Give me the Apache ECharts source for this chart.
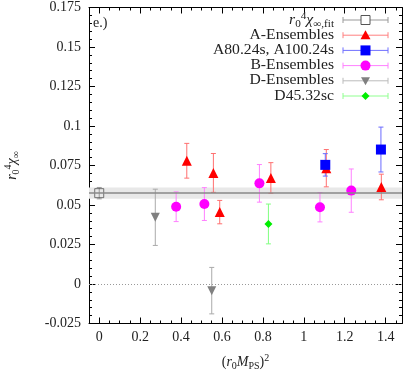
<!DOCTYPE html>
<html><head><meta charset="utf-8">
<script src="https://cdn.jsdelivr.net/npm/echarts@6/dist/echarts.min.js"></script>
<style>html,body{margin:0;padding:0;background:#fff}#c{width:407px;height:371px}</style>
</head><body><div id="c"></div>
<script>
// ---- data ----
const xTickValues = [0, 0.2, 0.4, 0.6, 0.8, 1, 1.2, 1.4];
const xMinorTickValues = [-0.05,0.05,0.1,0.15,0.25,0.3,0.35,0.45,0.5,0.55,0.65,0.7,0.75,0.85,0.9,0.95,1.05,1.1,1.15,1.25,1.3,1.35,1.45];
const yTickValues = [-0.025, 0, 0.025, 0.05, 0.075, 0.1, 0.125, 0.15, 0.175];

const fitX = [0];
const fitY = [0.0575];
const fitErr = [0.0036];

const aX = [0.428, 0.558, 0.589, 0.839, 1.11, 1.379];
const aY = [0.078, 0.0703, 0.0455, 0.0671, 0.0733, 0.0614];
const aErr = [0.011, 0.0123, 0.0074, 0.0097, 0.0118, 0.0081];

const a80X = [1.105, 1.377];
const a80Y = [0.0754, 0.0851];
const a80Err = [0.0071, 0.0142];

const bX = [0.376, 0.514, 0.783, 1.079, 1.232];
const bY = [0.0489, 0.0506, 0.0637, 0.0486, 0.0591];
const bErr = [0.0094, 0.0104, 0.0119, 0.0093, 0.0137];

const dX = [0.274, 0.55];
const dY = [0.0422, -0.0042];
const dErr = [0.0178, 0.0147];

const d45X = [0.827];
const d45Y = [0.038];
const d45Err = [0.0126];

// ---- build ----
const FONT = 'Liberation Serif';
function pts(xs, ys, es) { return xs.map((x, i) => [x, ys[i], es[i]]); }
function errRender(color) {
  return function (params, api) {
    const x = api.value(0), y = api.value(1), e = api.value(2);
    const t = api.coord([x, y + e]), b = api.coord([x, y - e]);
    const w = 2.5;
    const st = { stroke: color, lineWidth: 1 };
    return { type: 'group', children: [
      { type: 'line', shape: { x1: t[0], y1: t[1], x2: b[0], y2: b[1] }, style: st },
      { type: 'line', shape: { x1: t[0] - w, y1: t[1], x2: t[0] + w, y2: t[1] }, style: st },
      { type: 'line', shape: { x1: b[0] - w, y1: b[1], x2: b[0] + w, y2: b[1] }, style: st }
    ]};
  };
}
function errSeries(data, color) {
  return { type: 'custom', renderItem: errRender(color), data: data, encode: { x: 0, y: 1 }, z: 3, silent: true };
}
function markSeries(data, symbol, size, color, extra) {
  return Object.assign({ type: 'scatter', data: data, symbol: symbol, symbolSize: size,
    itemStyle: { color: color, opacity: 1 }, z: 4, silent: true }, extra || {});
}

const richMath = {
  n: { fontFamily: FONT, fontSize: 14, lineHeight: 18, color: '#222' },
  i: { fontFamily: FONT, fontSize: 14, fontStyle: 'italic', lineHeight: 18, color: '#222' },
  sub: { fontFamily: FONT, fontSize: 10, lineHeight: 9, verticalAlign: 'bottom', color: '#222' },
  sup: { fontFamily: FONT, fontSize: 10, lineHeight: 9, verticalAlign: 'top', color: '#222' }
};

const lineOn = { show: true, onZero: false, lineStyle: { color: '#000', width: 1 } };
const lineOff = { show: false, onZero: false };
const axisBase = { type: 'value', min: -0.05, max: 1.48, splitLine: { show: false } };
const yBase = {
  type: 'value', min: -0.025, max: 0.175, interval: 0.025, splitLine: { show: false },
  axisLine: lineOn,
  axisTick: { show: true, inside: true, length: 6, lineStyle: { color: '#000' } },
  minorTick: { show: true, splitNumber: 5, length: 3, lineStyle: { color: '#000' } }
};

const option = {
  animation: false,
  backgroundColor: '#fff',
  grid: { left: 89, right: 5, top: 7.5, bottom: 47.5, containLabel: false, outerBoundsMode: 'none' },
  xAxis: [
    Object.assign({}, axisBase, {
      position: 'bottom', axisLine: lineOn,
      axisTick: { show: true, inside: true, length: 6, customValues: xTickValues, lineStyle: { color: '#000' } },
      axisLabel: { show: true, customValues: xTickValues, margin: 7, fontFamily: FONT, fontSize: 14, color: '#222',
        formatter: v => String(+v.toFixed(2)) },
      name: '({i|r}{sub|0}{i|M}{sub|PS}){sup|2}', nameLocation: 'middle', nameGap: 30,
      nameTextStyle: { rich: richMath, fontFamily: FONT, fontSize: 14, color: '#222' }
    }),
    Object.assign({}, axisBase, {
      position: 'bottom', axisLine: lineOff,
      axisTick: { show: true, inside: true, length: 3, customValues: xMinorTickValues, lineStyle: { color: '#000' } },
      axisLabel: { show: false }
    }),
    Object.assign({}, axisBase, {
      position: 'top', axisLine: lineOn,
      axisTick: { show: true, inside: true, length: 6, customValues: xTickValues, lineStyle: { color: '#000' } },
      axisLabel: { show: false }
    }),
    Object.assign({}, axisBase, {
      position: 'top', axisLine: lineOff,
      axisTick: { show: true, inside: true, length: 3, customValues: xMinorTickValues, lineStyle: { color: '#000' } },
      axisLabel: { show: false }
    })
  ],
  yAxis: [
    Object.assign({}, yBase, {
      position: 'left',
      axisLabel: { show: true, margin: 8, fontFamily: FONT, fontSize: 14, color: '#222',
        formatter: v => String(+v.toFixed(3)) },
      name: '{i|r}{sub|0}{sup|4}{i|χ}{sub|∞}', nameLocation: 'middle', nameGap: 68, nameRotate: 90,
      nameTextStyle: { rich: richMath, fontFamily: FONT, fontSize: 14, color: '#222' }
    }),
    Object.assign({}, yBase, { position: 'right', axisLabel: { show: false } })
  ],
  series: [
    { type: 'line', data: [], z: 1, silent: true,
      markArea: { silent: true, itemStyle: { color: '#e8e8e8' },
        data: [[{ yAxis: fitY[0] - fitErr[0] }, { yAxis: fitY[0] + fitErr[0] }]] },
      markLine: { silent: true, symbol: 'none', precision: 6, label: { show: false },
        data: [
          { yAxis: fitY[0], lineStyle: { color: '#888', width: 1.5, type: 'solid' } },
          { yAxis: 0, lineStyle: { color: '#999', width: 1, type: [1, 2] } }
        ] }
    },
    errSeries(pts(fitX, fitY, fitErr), '#999'),
    markSeries(pts(fitX, fitY, fitErr), 'rect', 9, 'rgba(0,0,0,0)',
      { itemStyle: { color: 'rgba(0,0,0,0)', borderColor: '#555', borderWidth: 1 } }),
    errSeries(pts(aX, aY, aErr), '#ff7070'),
    markSeries(pts(aX, aY, aErr), 'triangle', 10, '#ff0000'),
    errSeries(pts(a80X, a80Y, a80Err), '#6a6aff'),
    markSeries(pts(a80X, a80Y, a80Err), 'rect', 10, '#0000ff'),
    errSeries(pts(bX, bY, bErr), '#ff80ff'),
    markSeries(pts(bX, bY, bErr), 'circle', 10, '#ff00ff'),
    errSeries(pts(dX, dY, dErr), '#aaaaaa'),
    markSeries(pts(dX, dY, dErr), 'triangle', 9, '#808080', { symbolRotate: 180 }),
    errSeries(pts(d45X, d45Y, d45Err), '#80ff80'),
    markSeries(pts(d45X, d45Y, d45Err), 'diamond', 8, '#00ee00')
  ]
};

// ---- legend (drawn as graphics) ----
const legendEntries = [
  { text: '{i|r}{sub|0}{sup|4}{i|χ}{sub|∞,fit}', line: '#999', mark: 'openrect', color: '#555' },
  { text: 'A-Ensembles', line: '#ff8080', mark: 'tri', color: '#ff0000' },
  { text: 'A80.24s, A100.24s', line: '#7070ff', mark: 'rect', color: '#0000ff' },
  { text: 'B-Ensembles', line: '#ff80ff', mark: 'circle', color: '#ff00ff' },
  { text: 'D-Ensembles', line: '#bbbbbb', mark: 'dtri', color: '#808080' },
  { text: 'D45.32sc', line: '#90ff90', mark: 'diamond', color: '#00ee00' }
];
const graphics = [];
legendEntries.forEach((e, k) => {
  const y = 20 + k * 15.2;
  const x1 = 343, x2 = 388, xm = 365.5;
  graphics.push({ type: 'text', x: 334, y: y, scaleX: 1.12, z: 10,
    style: { text: e.text, rich: richMath, align: 'right', verticalAlign: 'middle',
      fontFamily: FONT, fontSize: 14, fill: '#222' } });
  const ls = { stroke: e.line, lineWidth: 1 };
  graphics.push({ type: 'line', z: 10, shape: { x1: x1, y1: y, x2: x2, y2: y }, style: ls });
  graphics.push({ type: 'line', z: 10, shape: { x1: x1, y1: y - 3, x2: x1, y2: y + 3 }, style: ls });
  graphics.push({ type: 'line', z: 10, shape: { x1: x2, y1: y - 3, x2: x2, y2: y + 3 }, style: ls });
  let m;
  if (e.mark === 'openrect') m = { type: 'rect', shape: { x: xm - 4.5, y: y - 4.5, width: 9, height: 9 }, style: { fill: '#fff', stroke: e.color, lineWidth: 1 } };
  else if (e.mark === 'rect') m = { type: 'rect', shape: { x: xm - 5, y: y - 5, width: 10, height: 10 }, style: { fill: e.color } };
  else if (e.mark === 'circle') m = { type: 'circle', shape: { cx: xm, cy: y, r: 5 }, style: { fill: e.color } };
  else if (e.mark === 'tri') m = { type: 'polygon', shape: { points: [[xm, y - 5], [xm + 5, y + 4], [xm - 5, y + 4]] }, style: { fill: e.color } };
  else if (e.mark === 'dtri') m = { type: 'polygon', shape: { points: [[xm, y + 4.5], [xm + 4.5, y - 3.5], [xm - 4.5, y - 3.5]] }, style: { fill: e.color } };
  else m = { type: 'polygon', shape: { points: [[xm, y - 4], [xm + 4, y], [xm, y + 4], [xm - 4, y]] }, style: { fill: e.color } };
  m.z = 11;
  graphics.push(m);
});
graphics.push({ type: 'text', x: 93, y: 23, z: 10,
  style: { text: 'e.)', fontFamily: FONT, fontSize: 14, fill: '#222', verticalAlign: 'middle', align: 'left' } });
option.graphic = graphics;

const chart = echarts.init(document.getElementById('c'), null, { renderer: 'canvas' });
chart.setOption(option);
</script></body></html>
